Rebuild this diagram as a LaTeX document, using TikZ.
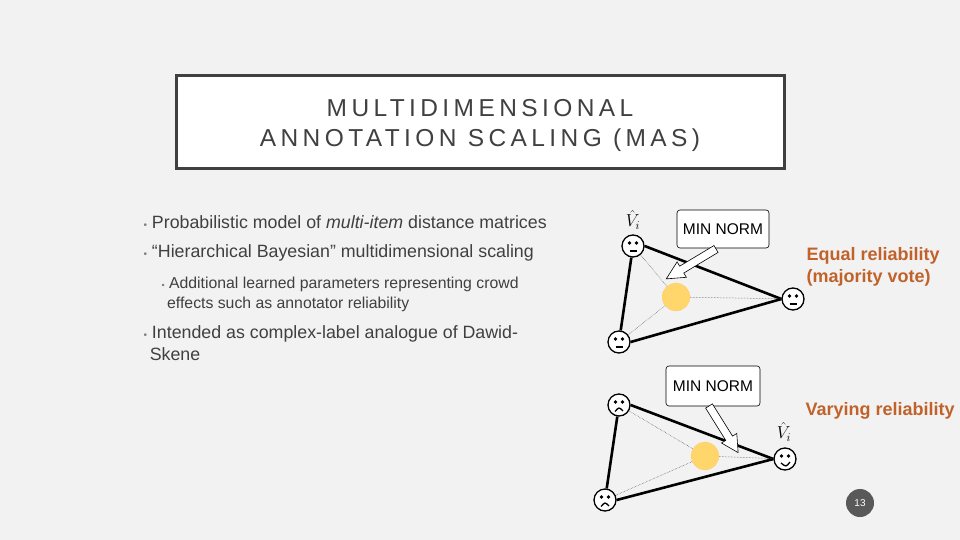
\documentclass[tikz,border=0pt]{standalone}
\usepackage{fontspec}
\setmainfont{Liberation Sans}
\usetikzlibrary{calc}
\definecolor{bg}{HTML}{F2F2F2}
\definecolor{txt}{HTML}{404040}
\definecolor{org}{HTML}{C0622A}
\definecolor{sun}{HTML}{FFD66B}
\tikzset{
 x=1pt,y=1pt,
 face/.style={circle,draw=black,line width=1.3pt,fill=white,minimum size=22pt,inner sep=0pt},
 sunc/.style={circle,fill=sun,draw=sun!70!orange,densely dotted,minimum size=28pt,inner sep=0pt},
 thick line/.style={line width=2.6pt},
 dot line/.style={densely dotted,line width=0.5pt,black!70},
 normbox/.style={draw=black,rounded corners=3pt,fill=white,line width=0.6pt,font=\fontsize{15.5}{17}\selectfont},
 bul/.style={anchor=west,text=txt,font=\fontsize{17.8}{22}\selectfont},
 sbul/.style={anchor=west,text=txt,font=\fontsize{15.8}{19.5}\selectfont},
 orgt/.style={text=org,font=\bfseries\fontsize{18}{22}\selectfont,anchor=west},
 vh/.style={font=\fontsize{17}{20}\selectfont,inner sep=0pt},
}
\newcommand{\facefeat}[2]{% name, type 0 neutral 1 sad 2 happy
 \fill ($(#1)+(-3.5,3)$) circle (1.8); \fill ($(#1)+(3.5,3)$) circle (1.8);
 \ifcase#2
  \draw[line width=1.3pt] ($(#1)+(-3.5,-5)$) -- ($(#1)+(3.5,-5)$);
 \or
  \draw[line width=1.3pt] ($(#1)+(-4,-6.5)$) .. controls ($(#1)+(0,-2)$) .. ($(#1)+(4,-6)$);
 \or
  \draw[line width=1.3pt] ($(#1)+(-4,-4)$) .. controls ($(#1)+(1,-8)$) .. ($(#1)+(5,-3)$);
 \fi}
\begin{document}
\begin{tikzpicture}
\fill[bg] (0,0) rectangle (960,-540);
\useasboundingbox (0,0) rectangle (960,-540);
% title
\node[draw=txt,line width=3pt,fill=white,minimum width=608,minimum height=93,inner sep=0] (title) at (480,-122.5) {};
\node[text=txt,font=\fontsize{24.5}{30}\selectfont,align=center] (tt) at (480,-125) {\addfontfeature{LetterSpace=18}MULTIDIMENSIONAL\\\addfontfeature{LetterSpace=18}ANNOTATION SCALING (MAS)};
% bullets
\node[bul] (b1) at (140,-222) {\textcolor{gray}{\fontsize{10}{12}\selectfont•}\ Probabilistic model of \textit{multi-item} distance matrices};
\node[bul] (b2) at (140,-253) {\textcolor{gray}{\fontsize{10}{12}\selectfont•}\ “Hierarchical Bayesian” multidimensional scaling};
\node[sbul,align=left,anchor=north west] (b3) at (158,-274) {\textcolor{gray}{\fontsize{9}{11}\selectfont•}\ Additional learned parameters representing crowd\\\hphantom{\fontsize{9}{11}\selectfont•\ }effects such as annotator reliability};
\node[bul,align=left,anchor=north west] (b4) at (140,-322) {\textcolor{gray}{\fontsize{10}{12}\selectfont•}\ Intended as complex-label analogue of Dawid-\\\hphantom{\fontsize{10}{12}\selectfont•\ }Skene};
% top diagram
\node[face] (a1) at (633,-246) {};
\node[face] (a2) at (619,-342) {};
\node[face] (a3) at (793,-299) {};
\node[sunc] (s1) at (676,-297) {};
\draw[thick line] (a1) -- (a2);
\draw[thick line] (a1.east) -- (a3.west);
\draw[thick line] (a2.east) -- (a3.west);
\draw[dot line] (s1) -- (a3);
\draw[dot line] (s1) -- (a2);
\draw[dot line] (s1) -- (a1);
\facefeat{a1}{0}\facefeat{a2}{0}\facefeat{a3}{0}
\node[vh] (v1) at (633,-220) {$\hat{V}_i$};
\node[normbox,minimum width=92,minimum height=38] (n1) at (723,-229) {MIN NORM};
\begin{scope}[shift={(716,-249)},rotate=211]
\draw[fill=white,line width=0.6pt] (0,-4)--(40,-4)--(40,-9)--(58,0)--(40,9)--(40,4)--(0,4)--cycle;
\end{scope}
% bottom diagram
\node[face] (c1) at (619,-405) {};
\node[face] (c2) at (605,-500) {};
\node[face] (c3) at (785,-459) {};
\node[sunc] (s2) at (705,-456) {};
\draw[thick line] (c1) -- (c2);
\draw[thick line] (c1.east) -- (c3.west);
\draw[thick line] (c2.east) -- (c3.west);
\draw[dot line] (s2) -- (c3);
\draw[dot line] (s2) -- (c2);
\draw[dot line] (s2) -- (c1);
\facefeat{c1}{1}\facefeat{c2}{1}\facefeat{c3}{2}
\node[vh] (v2) at (784,-432) {$\hat{V}_i$};
\node[normbox,minimum width=94,minimum height=40] (n2) at (713,-386) {MIN NORM};
\begin{scope}[shift={(709,-406)},rotate=-58]
\draw[fill=white,line width=0.6pt] (0,-4)--(38,-4)--(38,-9)--(55,0)--(38,9)--(38,4)--(0,4)--cycle;
\end{scope}
% labels
\node[orgt,align=left] (e1) at (803,-267) {Equal reliability\\(majority vote)};
\node[orgt] (e2) at (802,-411) {Varying reliability};
\node[circle,fill=black!65,minimum size=28,inner sep=0,text=white,font=\fontsize{10}{12}\selectfont] (pg) at (860,-503) {13};
\end{tikzpicture}
\end{document}
